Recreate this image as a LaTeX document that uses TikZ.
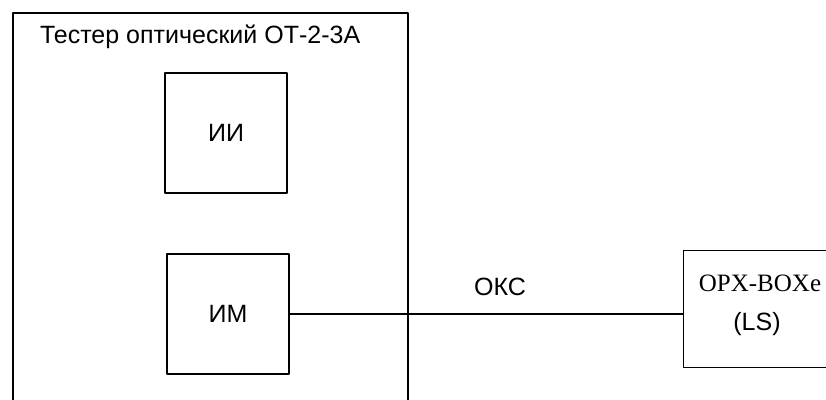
\documentclass[tikz,border=0pt]{standalone}
\usepackage{fontspec}
\setmainfont{Liberation Sans}
\newfontfamily\serifopx{Liberation Serif}
\usetikzlibrary{positioning}

\begin{document}
\begin{tikzpicture}[x=1pt, y=-1pt, line width=1.4pt, line join=round]

    % let's define some key values
    \def\fs{\fontsize{25}{30}\selectfont}
    \clip (0,0) rectangle (826,399);

    % Styles
    \tikzstyle{unit}=[draw, minimum width=122pt, minimum height=120pt, inner sep=0pt, font=\fs]

    % tester housing
    \draw (13,13) rectangle (408,420);
    \node (tester) [anchor=west, font=\fs] at (36,37) {Тестер оптический ОТ-2-3А};

    % blocks
    \node (ii) [unit] at (226,133) {ИИ};
    \node (im) [unit] at (228,314) {ИМ};
    \node (opx) [draw, anchor=north west, minimum width=160pt, minimum height=117pt, inner sep=0pt] at (683,250) {};
    \node (opxname) [font=\serifopx\fs] at (760,283) {OPX-BOXe};
    \node (ls) [font=\fs] at (757,324) {(LS)};

    % fibre
    \draw (im.east) -- (im.east -| opx.west) node [pos=0.535, above=14pt, font=\fs] (oks) {ОКС};

\end{tikzpicture}
\end{document}
